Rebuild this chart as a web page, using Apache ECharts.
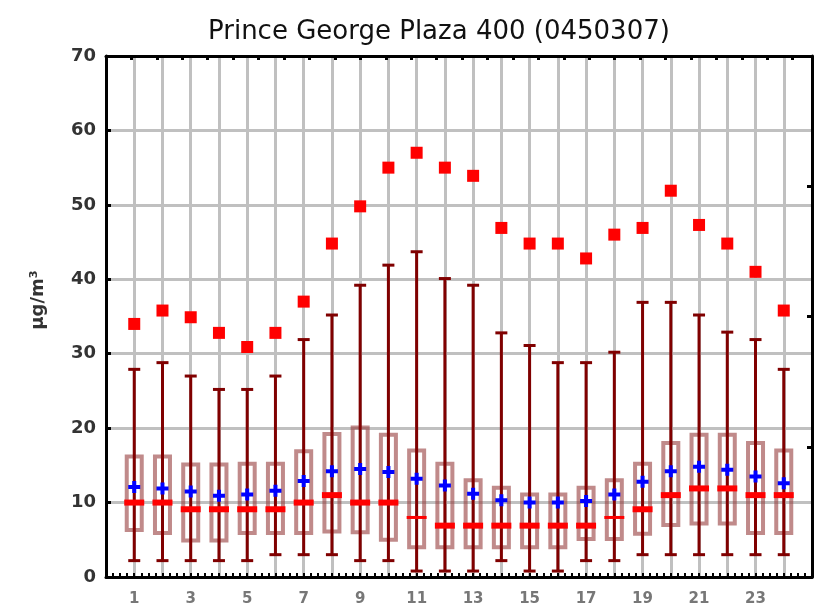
<!DOCTYPE html>
<html>
<head>
<meta charset="utf-8">
<script src="https://cdn.jsdelivr.net/npm/echarts@6/dist/echarts.min.js"></script>
<style>
  html, body { margin: 0; padding: 0; background: #fff; }
  #chart { width: 817px; height: 608px; }
</style>
</head>
<body>
<div id="chart"></div>
<script>
// 每小时的统计数据 (hour 1..24)
const hours = [1, 2, 3, 4, 5, 6, 7, 8, 9, 10, 11, 12, 13, 14, 15, 16, 17, 18, 19, 20, 21, 22, 23, 24];
const maxVals = [34.0, 35.8, 34.9, 32.8, 30.9, 32.8, 37.0, 44.8, 49.8, 55.0, 57.0, 55.0, 53.9, 46.9, 44.8, 44.8, 42.8, 46.0, 46.9, 51.9, 47.3, 44.8, 41.0, 35.8];
const whiskerHigh = [27.9, 28.8, 27.0, 25.2, 25.2, 27.0, 31.9, 35.2, 39.2, 41.9, 43.7, 40.1, 39.2, 32.8, 31.1, 28.8, 28.8, 30.2, 36.9, 36.9, 35.2, 32.9, 31.9, 27.9];
const whiskerLow = [2.2, 2.2, 2.2, 2.2, 2.2, 3.0, 3.0, 3.0, 2.2, 2.2, 0.8, 0.8, 0.8, 2.2, 0.8, 0.8, 2.2, 2.2, 3.0, 3.0, 3.0, 3.0, 3.0, 3.0];
const q3 = [16.2, 16.2, 15.1, 15.1, 15.2, 15.2, 16.9, 19.2, 20.1, 19.1, 17.0, 15.2, 13.0, 12.0, 11.1, 11.1, 12.0, 13.0, 15.2, 18.0, 19.1, 19.1, 18.0, 17.0];
const q1 = [6.3, 5.9, 4.9, 4.9, 5.9, 5.9, 5.9, 6.1, 6.0, 5.0, 4.0, 4.0, 4.0, 4.0, 4.0, 4.0, 5.1, 5.1, 5.8, 7.0, 7.2, 7.2, 5.9, 5.9];
const medians = [10.0, 10.0, 9.1, 9.1, 9.1, 9.1, 10.0, 11.0, 10.0, 10.0, 8.0, 6.9, 6.9, 6.9, 6.9, 6.9, 6.9, 8.0, 9.1, 11.0, 11.9, 11.9, 11.0, 11.0];
const means = [12.1, 11.9, 11.5, 10.9, 11.1, 11.6, 12.9, 14.2, 14.5, 14.1, 13.2, 12.3, 11.2, 10.3, 10.0, 10.0, 10.2, 11.1, 12.8, 14.2, 14.8, 14.4, 13.5, 12.6];
const xLabels = [1, 3, 5, 7, 9, 11, 13, 15, 17, 19, 21, 23];

// 中位线较细的小时
const thinMedianHours = [11, 18];

const dark = '#800000';

function renderBox(params, api) {
  const h = api.value(0);
  const x = api.coord([h, 0])[0];
  const yLo = api.coord([h, api.value(1)])[1];
  const yQ1 = api.coord([h, api.value(2)])[1];
  const yMed = api.coord([h, api.value(3)])[1];
  const yQ3 = api.coord([h, api.value(4)])[1];
  const yHi = api.coord([h, api.value(5)])[1];
  const thin = thinMedianHours.indexOf(h) >= 0;
  return {
    type: 'group',
    children: [
      { type: 'rect', shape: { x: x - 7.5, y: yQ3, width: 15, height: yQ1 - yQ3 },
        style: { fill: 'none', stroke: 'rgba(150,60,60,0.6)', lineWidth: 4 } },
      { type: 'line', shape: { x1: x, y1: yHi, x2: x, y2: yLo }, style: { stroke: dark, lineWidth: 3 } },
      { type: 'line', shape: { x1: x - 6, y1: yHi, x2: x + 6, y2: yHi }, style: { stroke: dark, lineWidth: 3 } },
      { type: 'line', shape: { x1: x - 6, y1: yLo, x2: x + 6, y2: yLo }, style: { stroke: dark, lineWidth: 3 } },
      { type: 'rect', shape: { x: x - 10, y: yMed - (thin ? 1.5 : 3), width: 20, height: thin ? 3 : 6 },
        style: { fill: '#ff0000' } }
    ]
  };
}

const plusPath = 'path://M4,0 L8,0 L8,4 L12,4 L12,8 L8,8 L8,12 L4,12 L4,8 L0,8 L0,4 L4,4 Z';

let chartConfig = {
  animation: false,
  title: {
    text: 'Prince George Plaza 400 (0450307)',
    left: 203,
    top: 14,
    textStyle: { fontSize: 26, fontWeight: 'normal', color: '#111', fontFamily: 'DejaVu Sans' }
  },
  graphic: [
    {
      type: 'text',
      x: 38,
      y: 300,
      rotation: Math.PI / 2,
      style: {
        text: 'µg/m³',
        fontSize: 18,
        fontWeight: 'bold',
        fontFamily: 'DejaVu Sans',
        fill: '#333',
        align: 'center',
        verticalAlign: 'middle'
      }
    }
  ],
  grid: { left: 106, right: 5, top: 56, bottom: 31 },
  xAxis: [
    {
      type: 'value',
      position: 'bottom',
      min: 0,
      max: 25,
      interval: 1,
      axisLine: { show: true, onZero: false, lineStyle: { color: '#000', width: 3 } },
      axisTick: { show: true, inside: true, length: 4, lineStyle: { color: '#000', width: 2 } },
      minorTick: { show: true, splitNumber: 4, length: 4, lineStyle: { color: '#000', width: 2 } },
      splitLine: { show: true, lineStyle: { color: '#c0c0c0', width: 3 } },
      axisLabel: {
        margin: 15,
        fontSize: 15,
        color: '#777',
        fontWeight: 'bold',
        fontFamily: 'DejaVu Sans',
        formatter: v => (xLabels.indexOf(v) >= 0 ? String(v) : '')
      }
    },
    {
      type: 'value',
      position: 'top',
      min: -0.1,
      max: 27.66,
      interval: 1,
      axisLine: { show: true, onZero: false, lineStyle: { color: '#000', width: 3 } },
      axisTick: { show: true, inside: true, length: 4, lineStyle: { color: '#000', width: 3 } },
      splitLine: { show: false },
      axisLabel: { show: false }
    }
  ],
  yAxis: [
    {
      type: 'value',
      position: 'left',
      min: 0,
      max: 70,
      interval: 10,
      axisLine: { show: true, onZero: false, lineStyle: { color: '#000', width: 3 } },
      axisTick: { show: true, inside: true, length: 5, lineStyle: { color: '#000', width: 3 } },
      splitLine: { show: true, lineStyle: { color: '#c0c0c0', width: 3 } },
      axisLabel: { margin: 10, fontSize: 18, fontWeight: 'bold', color: '#333', fontFamily: 'DejaVu Sans' }
    },
    {
      type: 'value',
      position: 'right',
      min: 0,
      max: 4,
      interval: 1,
      axisLine: { show: true, onZero: false, lineStyle: { color: '#000', width: 3 } },
      axisTick: { show: true, inside: true, length: 5, lineStyle: { color: '#000', width: 3 } },
      splitLine: { show: false },
      axisLabel: { show: false }
    }
  ],
  series: [
    {
      type: 'custom',
      renderItem: renderBox,
      encode: { x: 0, y: [1, 2, 3, 4, 5] },
      data: hours.map((h, i) => [h, whiskerLow[i], q1[i], medians[i], q3[i], whiskerHigh[i]]),
      z: 3
    },
    {
      type: 'scatter',
      symbol: plusPath,
      symbolSize: 12,
      itemStyle: { color: '#0000ff', opacity: 1 },
      data: hours.map((h, i) => [h, means[i]]),
      z: 4
    },
    {
      type: 'scatter',
      symbol: 'rect',
      symbolSize: 12,
      itemStyle: { color: '#ff0000', opacity: 1 },
      data: hours.map((h, i) => [h, maxVals[i]]),
      z: 4
    }
  ]
};

let chart = echarts.init(document.getElementById('chart'));
chart.setOption(chartConfig);
window.addEventListener('resize', function () {
  chart.resize();
});
</script>
</body>
</html>
